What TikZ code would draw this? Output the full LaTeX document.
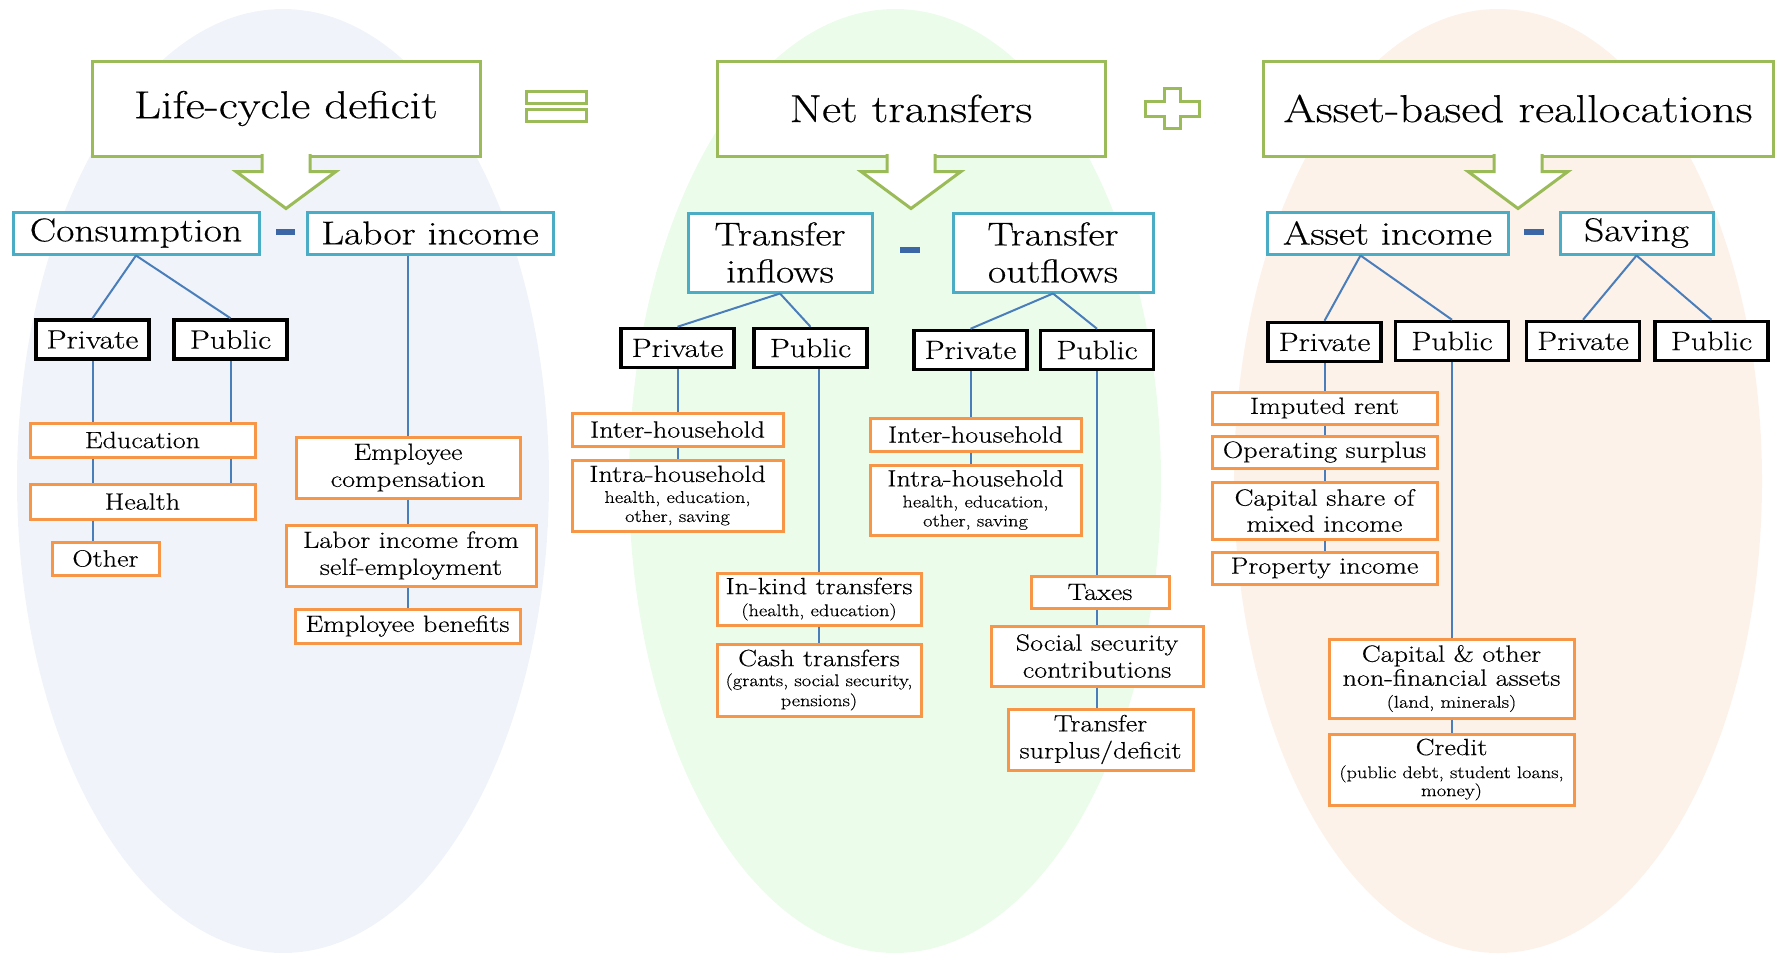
\documentclass[tikz,border=0pt]{standalone}
\usepackage{fontspec}
\setmainfont{Latin Modern Roman}[FakeStretch=1.2,FakeBold=0.4]
\usepackage{xcolor}
\usepackage{tikz}
\usetikzlibrary{positioning,calc}
\definecolor{Olive}{HTML}{9BBB59}
\definecolor{Teal}{HTML}{4BACC6}
\definecolor{Peach}{HTML}{F79646}
\definecolor{LinkBlue}{HTML}{4A7EBB}
\definecolor{MinusBlue}{HTML}{3C67A6}
\definecolor{LcdBack}{HTML}{F0F4FA}
\definecolor{NtBack}{HTML}{ECFCEB}
\definecolor{AbrBack}{HTML}{FDF2E9}
\newcommand{\subtxt}{\fontsize{17}{19}\selectfont}

\begin{document}
\begin{tikzpicture}[x=1pt,y=-1pt,
  total/.style={draw=Olive,line width=3pt,fill=white,inner sep=0pt,minimum height=95pt,font=\fontsize{39}{44}\selectfont},
  totarrow/.style={draw=Olive,line width=3pt,fill=white},
  part/.style={draw=Teal,line width=3pt,fill=white,inner sep=0pt,minimum height=42pt,align=center,font=\fontsize{33}{37}\selectfont},
  sector/.style={draw=black,line width=3.5pt,fill=white,inner sep=0pt,minimum width=113pt,minimum height=39pt,font=\fontsize{26.5}{30}\selectfont},
  item/.style={draw=Peach,line width=3pt,fill=white,inner sep=0pt,minimum height=33pt,align=center,font=\fontsize{23.5}{27}\selectfont},
  link/.style={draw=LinkBlue,line width=2pt},
  minusbar/.style={fill=MinusBlue}
]
\useasboundingbox (0,0) rectangle (1776,954);

% backgrounds
\fill[LcdBack] (283,481) ellipse [x radius=266pt,y radius=472pt];
\fill[NtBack] (895,481) ellipse [x radius=266pt,y radius=472pt];
\fill[AbrBack] (1498,481) ellipse [x radius=264pt,y radius=472pt];

% totals
\node[total,minimum width=388pt] (lcd) at (286,108.5) {Life-cycle deficit};
\node[total,minimum width=388pt] (nt) at (911,108.5) {Net transfers};
\node[total,minimum width=510pt] (abr) at (1518,108.5) {Asset-based reallocations};
\draw[totarrow] ($(lcd.south)+(24,-3.5)$) -- ++(0,17.5) -- ++(26,0) -- ($(lcd.south)+(0,51)$) -- ($(lcd.south)+(-50,14)$) -- ++(26,0) -- ++(0,-17.5);
\draw[totarrow] ($(nt.south)+(24,-3.5)$) -- ++(0,17.5) -- ++(26,0) -- ($(nt.south)+(0,51)$) -- ($(nt.south)+(-50,14)$) -- ++(26,0) -- ++(0,-17.5);
\draw[totarrow] ($(abr.south)+(24,-3.5)$) -- ++(0,17.5) -- ++(26,0) -- ($(abr.south)+(0,51)$) -- ($(abr.south)+(-50,14)$) -- ++(26,0) -- ++(0,-17.5);

% signs
\draw[totarrow] (526,91) rectangle (586,103) (526,109) rectangle (586,121);
\draw[totarrow] (1164,88) -- (1180,88) -- (1180,101) -- (1199,101) -- (1199,116) -- (1180,116) -- (1180,128) -- (1164,128) -- (1164,116) -- (1145,116) -- (1145,101) -- (1164,101) -- cycle;
\fill[minusbar] (276,229) rectangle (295,235);
\fill[minusbar] (900,247) rectangle (920,253);
\fill[minusbar] (1524,229) rectangle (1544,235);

% components
\node[part,minimum width=246pt] (cons) at (136,233) {Consumption};
\node[part,minimum width=246pt] (labor) at (430,233) {Labor income};
\node[part,minimum width=184pt,minimum height=79pt] (tin) at (780,252.5) {Transfer\\inflows};
\node[part,minimum width=200pt,minimum height=79pt] (tout) at (1053,252.5) {Transfer\\outflows};
\node[part,minimum width=241pt] (ainc) at (1387.5,233) {Asset income};
\node[part,minimum width=153pt] (sav) at (1636.5,233) {Saving};

% sectors
\node[sector] (cpriv) at (92.5,339.5) {Private};
\node[sector] (cpub) at (230.5,339.5) {Public};
\node[sector] (tipriv) at (677.5,348) {Private};
\node[sector] (tipub) at (810.5,348) {Public};
\node[sector] (topriv) at (970.5,350) {Private};
\node[sector] (topub) at (1097,350) {Public};
\node[sector] (apriv) at (1324.5,342) {Private};
\node[sector] (apub) at (1452,341) {Public};
\node[sector] (spriv) at (1583,341) {Private};
\node[sector] (spub) at (1711.5,341) {Public};

% items
\node[item,minimum width=225pt,minimum height=34pt] (edu) at (142.5,440) {Education};
\node[item,minimum width=225pt,minimum height=35pt] (health) at (142.5,501.5) {Health};
\node[item,minimum width=107pt] (other) at (105.5,558.5) {Other};
\node[item,minimum width=224pt,minimum height=61pt] (empc) at (408,467.5) {Employee\\compensation};
\node[item,minimum width=250pt,minimum height=61pt] (lself) at (411,555.5) {Labor income from\\self-employment};
\node[item,minimum width=225pt,minimum height=34pt] (empb) at (407.5,626) {Employee benefits};
\node[item,minimum width=211pt] (inter1) at (677.5,429.5) {Inter-household};
\node[item,minimum width=211pt,minimum height=71pt] (intra1) at (677.5,495.5) {Intra-household\\[-6pt]{\subtxt health, education,}\\[-8pt]{\subtxt other, saving}};
\node[item,minimum width=211pt] (inter2) at (975.5,434.5) {Inter-household};
\node[item,minimum width=211pt,minimum height=70pt] (intra2) at (975.5,500) {Intra-household\\[-6pt]{\subtxt health, education,}\\[-8pt]{\subtxt other, saving}};
\node[item,minimum width=204pt,minimum height=52pt] (inkind) at (819,599) {In-kind transfers\\[-5pt]{\subtxt (health, education)}};
\node[item,minimum width=204pt,minimum height=72pt] (cash) at (819,680) {Cash transfers\\[-7pt]{\subtxt (grants, social security,}\\[-7pt]{\subtxt pensions)}};
\node[item,minimum width=138pt,minimum height=32pt] (taxes) at (1100,592) {Taxes};
\node[item,minimum width=212pt,minimum height=60pt] (ssc) at (1097,656) {Social security\\contributions};
\node[item,minimum width=185pt,minimum height=61pt] (tsd) at (1100.5,739.5) {Transfer\\surplus/deficit};
\node[item,minimum width=225pt,minimum height=32pt] (rent) at (1324.5,408) {Imputed rent};
\node[item,minimum width=225pt,minimum height=32pt] (opsur) at (1324.5,452) {Operating surplus};
\node[item,minimum width=225pt,minimum height=57pt] (capsh) at (1324.5,510.5) {Capital share of\\[-1pt]mixed income};
\node[item,minimum width=225pt,minimum height=32pt] (prop) at (1324.5,568) {Property income};
\node[item,minimum width=245pt,minimum height=79pt] (capna) at (1451.5,678.5) {Capital \& other\\[-3pt]non-financial assets\\[-5pt]{\subtxt (land, minerals)}};
\node[item,minimum width=245pt,minimum height=71pt] (credit) at (1451.5,769.5) {Credit\\[-4pt]{\subtxt (public debt, student loans,}\\[-9pt]{\subtxt money)}};

% links
\draw[link] (cons.south) -- (cpriv.north);
\draw[link] (cons.south) -- (cpub.north);
\draw[link] (cpriv.south) -- (cpriv.south |- edu.north);
\draw[link] (cpriv |- edu.south) -- (cpriv |- health.north);
\draw[link] (cpriv |- health.south) -- (cpriv |- other.north);
\draw[link] (cpub.south) -- (cpub.south |- edu.north);
\draw[link] (cpub |- edu.south) -- (cpub |- health.north);
\draw[link] (empc.north |- labor.south) -- (empc.north);
\draw[link] (empc.south) -- (empc.south |- lself.north);
\draw[link] (empb.north |- lself.south) -- (empb.north);
\draw[link] (tin.south) -- (tipriv.north);
\draw[link] (tin.south) -- (tipub.north);
\draw[link] (tipriv.south) -- (tipriv.south |- inter1.north);
\draw[link] (inter1.south) -- (intra1.north);
\draw[link] (inkind.north |- tipub.south) -- (inkind.north);
\draw[link] (inkind.south) -- (cash.north);
\draw[link] (tout.south) -- (topriv.north);
\draw[link] (tout.south) -- (topub.north);
\draw[link] (topriv.south) -- (topriv.south |- inter2.north);
\draw[link] (topriv |- inter2.south) -- (topriv |- intra2.north);
\draw[link] (topub.south) -- (topub.south |- taxes.north);
\draw[link] (topub |- taxes.south) -- (topub |- ssc.north);
\draw[link] (topub |- ssc.south) -- (topub |- tsd.north);
\draw[link] ([xshift=-27pt]ainc.south) -- (apriv.north);
\draw[link] ([xshift=-27pt]ainc.south) -- (apub.north);
\draw[link] (sav.south) -- (spriv.north);
\draw[link] (sav.south) -- (spub.north);
\draw[link] (apriv.south) -- (apriv.south |- rent.north);
\draw[link] (rent.south) -- (opsur.north);
\draw[link] (opsur.south) -- (capsh.north);
\draw[link] (capsh.south) -- (prop.north);
\draw[link] (apub.south) -- (apub.south |- capna.north);
\draw[link] (capna.south) -- (credit.north);
\end{tikzpicture}
\end{document}
